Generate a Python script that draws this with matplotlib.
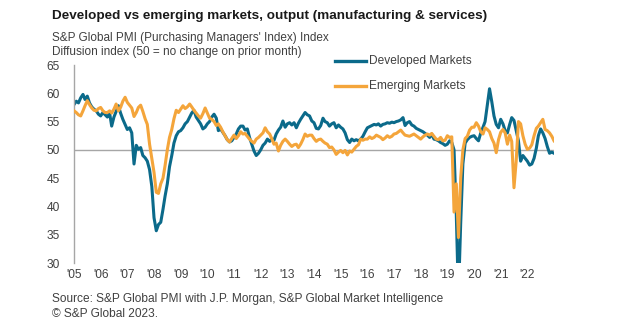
import pandas as pd
import matplotlib
matplotlib.use("Agg")
import matplotlib.pyplot as plt

# monthly composite output indices, Oct 2005 - Oct 2023
dates = pd.date_range("2005-10-01", periods=217, freq="MS")

developed = [
    58.0, 58.6, 58.3, 59.2, 59.8, 58.9, 59.5, 58.3, 57.6, 57.2, 56.9, 56.3,
    56.0, 56.6, 56.2, 55.8, 56.5, 54.2, 55.8, 56.8, 57.8, 56.5, 55.4, 54.5,
    53.6, 53.9, 53.0, 47.5, 50.8, 50.1, 50.4, 49.0, 48.6, 48.0, 46.5, 43.5,
    38.0, 35.7, 36.8, 37.2, 39.5, 41.8, 44.0, 47.0, 49.0, 51.2, 52.5, 53.2,
    53.4, 53.9, 54.6, 55.0, 55.8, 56.5, 57.0, 55.8, 55.2, 54.6, 53.7, 54.0,
    54.6, 55.0, 55.8, 56.3, 55.6, 53.4, 53.7, 53.1, 52.5, 51.8, 51.4, 51.6,
    52.2, 52.8, 53.7, 54.2, 54.2, 53.5, 53.7, 52.2, 51.0, 49.8, 49.0, 49.4,
    50.0, 50.8, 51.2, 51.9, 51.5, 51.9, 51.7, 52.8, 53.5, 54.0, 55.1, 54.0,
    54.6, 54.8, 54.4, 54.8, 53.9, 54.7, 55.4, 56.0, 56.6, 56.2, 56.0, 55.1,
    54.8, 53.8, 53.7, 54.3, 55.6, 55.0, 54.8, 54.2, 54.6, 54.8, 53.9, 54.4,
    54.0, 53.7, 53.0, 51.8, 51.3, 51.9, 51.6, 51.8, 51.6, 51.9, 52.4, 53.2,
    53.9, 54.1, 54.3, 54.5, 54.4, 54.6, 54.2, 54.5, 54.6, 54.8, 54.7, 54.9,
    54.8, 55.0, 55.1, 55.3, 55.7, 54.3, 54.8, 55.0, 54.4, 54.2, 53.8, 53.6,
    53.4, 53.2, 52.9, 52.6, 52.2, 52.8, 51.9, 51.8, 51.6, 51.3, 51.1, 50.8,
    51.0, 51.6, 51.3, 50.0, 38.5, 24.0, 37.0, 47.5, 51.2, 51.8, 52.2, 52.4,
    52.5, 52.0, 51.6, 53.0, 54.0, 55.0, 58.0, 60.8, 58.5, 56.0, 54.5, 53.9,
    55.4, 54.6, 53.4, 53.0, 54.5, 55.7, 55.2, 53.4, 51.6, 48.0, 49.0, 48.5,
    48.0, 47.3, 47.5, 48.5, 50.3, 52.5, 53.7, 53.0, 52.0, 50.6, 49.4, 49.6,
    49.4,
]

emerging = [
    56.9, 56.6, 56.2, 56.0, 56.9, 57.8, 58.7, 58.0, 57.4, 57.0, 56.9, 57.3,
    57.5, 56.9, 56.6, 56.6, 56.9, 56.5, 57.2, 58.1, 56.9, 57.5, 58.6, 59.3,
    58.4, 57.9, 57.4, 55.9, 56.6, 57.5, 57.9, 56.8, 55.5, 54.5, 51.0, 48.5,
    46.0, 42.5, 42.3, 44.0, 45.0, 47.2, 50.0, 52.2, 53.6, 55.5, 57.0, 56.6,
    57.2, 57.8, 57.3, 57.6, 58.1, 57.6, 57.0, 56.5, 56.0, 55.6, 56.4, 57.4,
    56.5, 55.6, 55.4, 55.0, 54.3, 54.6, 54.0, 53.2, 52.5, 51.8, 51.4, 52.0,
    52.6, 52.0, 52.5, 53.2, 52.8, 52.9, 52.4, 51.9, 51.5, 51.2, 51.9, 52.2,
    52.6, 53.0, 53.9, 53.2, 52.8, 52.0, 51.0, 51.2, 49.8, 50.8, 51.5, 51.9,
    51.5, 51.0, 50.6, 50.9, 51.0, 50.4, 51.0, 51.8, 52.8, 52.4, 52.6, 52.6,
    52.0, 51.5, 51.8, 51.9, 51.5, 51.2, 51.0, 50.4, 50.5, 50.0, 49.2, 49.6,
    49.9, 49.5, 49.9, 49.1, 49.8, 49.6, 50.1, 50.6, 50.9, 51.9, 51.7, 51.9,
    51.9, 52.3, 52.0, 52.2, 52.6, 52.4, 52.2, 51.8, 52.1, 52.5, 52.2, 52.4,
    52.8, 52.9, 53.2, 53.5, 53.0, 52.6, 52.5, 52.4, 52.6, 52.8, 52.5, 52.2,
    51.9, 52.3, 52.6, 52.8, 52.6, 52.9, 52.4, 51.9, 51.8, 52.2, 51.6, 51.7,
    52.5, 52.2, 52.3, 39.0, 44.0, 34.5, 45.0, 50.0, 52.0, 52.4, 53.5, 54.0,
    54.0, 54.8, 54.2, 53.2, 52.8, 53.9, 53.6, 53.2, 52.0, 51.2, 49.5, 51.8,
    53.1, 53.6, 53.0, 51.0, 52.6, 51.5, 43.3, 48.0, 55.0, 54.6, 52.5, 51.0,
    50.1, 50.3, 50.9, 52.5, 53.8, 54.2, 54.8, 55.4, 53.6, 53.4, 53.0, 52.4,
    51.6,
]

# axis labels sit on each October, one per year
tick_dates = pd.date_range("2005-10-01", "2022-10-01", freq="12MS")
year_labels = ["'05", "'06", "'07", "'08", "'09", "'10", "'11", "'12", "'13",
               "'14", "'15", "'16", "'17", "'18", "'19", "'20", "'21", "'22"]

DM_COLOR = "#0b6a8a"
EM_COLOR = "#f4a53b"
TEXT = "#404040"

plt.rcParams["font.family"] = ["Liberation Sans", "DejaVu Sans"]

W, H = 630, 326
fig = plt.figure(figsize=(W / 100, H / 100), dpi=100)
ax = fig.add_axes([74 / W, 1 - 263 / H, 480 / W, 198 / H])

ax.axhline(50, color="#a6a6a6", lw=1.0, zorder=1)
ax.plot(dates, developed, color=DM_COLOR, lw=2.2, zorder=2, solid_joinstyle="round")
ax.plot(dates, emerging, color=EM_COLOR, lw=2.2, zorder=3, solid_joinstyle="round")

ax.set_ylim(30, 65)
ax.set_yticks(range(30, 66, 5))
ax.set_xlim(dates[0], dates[-1])
ax.set_xticks(tick_dates)
ax.set_xticklabels(year_labels)

for side in ["top", "right", "bottom"]:
    ax.spines[side].set_visible(False)
ax.spines["left"].set_color("#a6a6a6")
ax.spines["left"].set_linewidth(1.0)
ax.tick_params(axis="y", length=0, pad=10, labelsize=8.6, labelcolor=TEXT)
ax.tick_params(axis="x", length=0, pad=4, labelsize=8.6, labelcolor=TEXT)

# legend drawn by hand in figure pixels
fig.lines.append(plt.Line2D([335 / W, 366 / W], [1 - 61 / H, 1 - 61 / H],
                            color=DM_COLOR, lw=2.4, transform=fig.transFigure))
fig.lines.append(plt.Line2D([335 / W, 366 / W], [1 - 86 / H, 1 - 86 / H],
                            color=EM_COLOR, lw=2.4, transform=fig.transFigure))
fig.text(369 / W, 1 - 61 / H, "Developed Markets", fontsize=8.6, color=TEXT, va="center")
fig.text(369 / W, 1 - 86 / H, "Emerging Markets", fontsize=8.6, color=TEXT, va="center")

fig.text(52 / W, 1 - 16 / H, "Developed vs emerging markets, output (manufacturing & services)",
         fontsize=9.7, fontweight="bold", color="#1a1a1a", va="center")
fig.text(52 / W, 1 - 38 / H, "S&P Global PMI (Purchasing Managers' Index) Index",
         fontsize=8.5, color=TEXT, va="center")
fig.text(52 / W, 1 - 51.5 / H, "Diffusion index (50 = no change on prior month)",
         fontsize=8.5, color=TEXT, va="center")
fig.text(52 / W, 1 - 299 / H, "Source: S&P Global PMI with J.P. Morgan, S&P Global Market Intelligence",
         fontsize=8.6, color=TEXT, va="center")
fig.text(52 / W, 1 - 314 / H, "\u00a9 S&P Global 2023.",
         fontsize=8.6, color=TEXT, va="center")

fig.savefig("out.png", dpi=100)
